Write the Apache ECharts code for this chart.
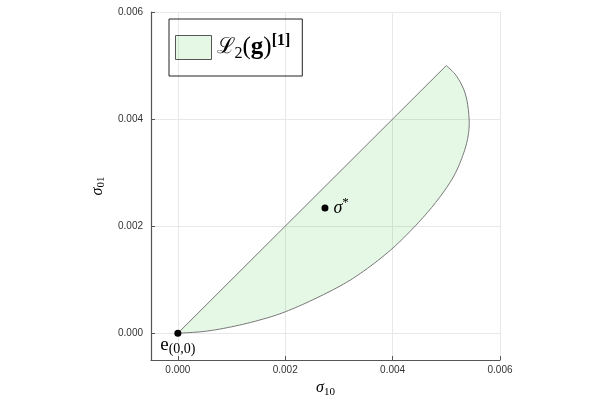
<!DOCTYPE html>
<html>
<head>
<meta charset="utf-8">
<script src="https://cdn.jsdelivr.net/npm/echarts@6/dist/echarts.min.js"></script>
<style>
html, body { margin: 0; padding: 0; background: #fff; }
#main { width: 600px; height: 400px; }
</style>
</head>
<body>
<div id="main"></div>
<script>
// lower / right boundary of the region, from (0,0) round to (0.005,0.005)
var curveX = [0, 0.0005, 0.0010, 0.0015, 0.0020, 0.00265, 0.00327, 0.0039, 0.00439, 0.0048, 0.00512, 0.0053, 0.0054, 0.005425, 0.00536, 0.0052, 0.0050];
var curveY = [0, 0.000035, 0.00012, 0.00024, 0.00040, 0.00069, 0.00103, 0.00150, 0.00197, 0.00244, 0.0029, 0.0033, 0.00365, 0.0040, 0.00445, 0.00479, 0.0050];
// straight upper edge
var edgeX = [0, 0.005];
var edgeY = [0, 0.005];
var starPoint = [0.00274, 0.00234];
var originPoint = [0, 0];
var tickValues = [0, 0.002, 0.004, 0.006];
var legendName = 'L2g';

var serif = '"Liberation Serif", "DejaVu Serif", serif';
var sans = '"Liberation Sans", Helvetica, Arial, sans-serif';
var fillColor = 'rgba(0,180,0,0.1)';

var regionPts = [];
for (var i = 0; i < curveX.length; i++) {
  regionPts.push([curveX[i], curveY[i]]);
}

// smooth the pixel path through the read points (catmull-rom)
function smoothPath(p) {
  var out = [p[0]];
  for (var i = 0; i < p.length - 1; i++) {
    var p0 = p[Math.max(i - 1, 0)], p1 = p[i], p2 = p[i + 1], p3 = p[Math.min(i + 2, p.length - 1)];
    for (var k = 1; k <= 10; k++) {
      var t = k / 10, t2 = t * t, t3 = t2 * t;
      out.push([
        0.5 * (2 * p1[0] + (-p0[0] + p2[0]) * t + (2 * p0[0] - 5 * p1[0] + 4 * p2[0] - p3[0]) * t2 + (-p0[0] + 3 * p1[0] - 3 * p2[0] + p3[0]) * t3),
        0.5 * (2 * p1[1] + (-p0[1] + p2[1]) * t + (2 * p0[1] - 5 * p1[1] + 4 * p2[1] - p3[1]) * t2 + (-p0[1] + 3 * p1[1] - 3 * p2[1] + p3[1]) * t3)
      ]);
    }
  }
  return out;
}

var myChart = echarts.init(document.getElementById('main'));

var option = {
  animation: false,
  backgroundColor: '#fff',
  grid: {
    left: 151,
    right: 100,
    top: 12,
    bottom: 40,
    outerBoundsMode: 'none'
  },
  legend: {
    left: 169,
    top: 19,
    orient: 'vertical',
    padding: [14, 12, 14, 6],
    borderColor: '#222',
    borderWidth: 1,
    itemWidth: 36,
    itemHeight: 24,
    data: [{
      name: legendName,
      icon: 'rect',
      itemStyle: {
        color: fillColor,
        borderColor: '#555',
        borderWidth: 1
      }
    }],
    formatter: function () {
      return '{L|\u2112}{s|2}{m|(}{b|g}{m|)}{p|[1]}';
    },
    textStyle: {
      rich: {
        L: { fontFamily: '"DejaVu Serif", serif', fontSize: 22, color: '#000', lineHeight: 29 },
        m: { fontFamily: serif, fontSize: 25, color: '#000', lineHeight: 29 },
        b: { fontFamily: serif, fontWeight: 'bold', fontSize: 25, color: '#000', lineHeight: 29 },
        s: { fontFamily: serif, fontSize: 16, color: '#000', lineHeight: 15, verticalAlign: 'bottom' },
        p: { fontFamily: serif, fontWeight: 'bold', fontSize: 16, color: '#000', lineHeight: 16, verticalAlign: 'top' }
      }
    }
  },
  xAxis: {
    type: 'value',
    min: -0.0005,
    max: 0.006,
    name: '{i|\u03c3}{s|10}',
    nameLocation: 'middle',
    nameGap: 12,
    nameTextStyle: {
      rich: {
        i: { fontFamily: serif, fontStyle: 'italic', fontSize: 16, color: '#000' },
        s: { fontFamily: serif, fontSize: 11, color: '#000', padding: [8, 0, 0, 0] }
      }
    },
    axisLine: { onZero: false, lineStyle: { color: '#555', width: 1.2 } },
    axisTick: { inside: true, length: 4, customValues: tickValues, lineStyle: { color: '#555' } },
    axisLabel: {
      customValues: tickValues,
      margin: 5,
      fontFamily: sans,
      fontSize: 10,
      color: '#333',
      formatter: function (v) { return v.toFixed(3); }
    },
    splitLine: { show: true, lineStyle: { color: '#e8e8e8', width: 1 } }
  },
  yAxis: {
    type: 'value',
    min: -0.0005,
    max: 0.006,
    name: '{i|\u03c3}{s|01}',
    nameLocation: 'middle',
    nameGap: 42,
    nameTextStyle: {
      rich: {
        i: { fontFamily: serif, fontStyle: 'italic', fontSize: 16, color: '#000' },
        s: { fontFamily: serif, fontSize: 11, color: '#000', padding: [8, 0, 0, 0] }
      }
    },
    axisLine: { onZero: false, lineStyle: { color: '#555', width: 1.2 } },
    axisTick: { inside: true, length: 4, customValues: tickValues, lineStyle: { color: '#555' } },
    axisLabel: {
      customValues: tickValues,
      margin: 8,
      fontFamily: sans,
      fontSize: 10,
      color: '#333',
      formatter: function (v) { return v.toFixed(3); }
    },
    splitLine: { show: true, lineStyle: { color: '#e8e8e8', width: 1 } }
  },
  series: [
    {
      name: legendName,
      type: 'custom',
      coordinateSystem: 'cartesian2d',
      data: regionPts,
      itemStyle: { color: fillColor },
      renderItem: function (params, api) {
        if (params.dataIndex !== 0) return null;
        var raw = [];
        for (var i = 0; i < curveX.length; i++) {
          raw.push(api.coord([curveX[i], curveY[i]]));
        }
        var pts = smoothPath(raw);
        var e0 = api.coord([edgeX[0], edgeY[0]]);
        var e1 = api.coord([edgeX[1], edgeY[1]]);
        return {
          type: 'group',
          children: [
            {
              type: 'polygon',
              shape: { points: pts },
              style: { fill: fillColor, stroke: null }
            },
            {
              type: 'polyline',
              shape: { points: pts },
              style: { fill: null, stroke: '#777', lineWidth: 1 }
            },
            {
              type: 'line',
              shape: { x1: e0[0], y1: e0[1], x2: e1[0], y2: e1[1] },
              style: { stroke: '#777', lineWidth: 1 }
            }
          ]
        };
      }
    },
    {
      type: 'scatter',
      symbolSize: 7,
      itemStyle: { color: '#000', opacity: 1 },
      data: [originPoint],
      label: {
        show: true,
        position: 'bottom',
        distance: -4,
        formatter: '{e|e}{s|(0,0)}',
        rich: {
          e: { fontFamily: serif, fontSize: 19, color: '#000' },
          s: { fontFamily: serif, fontSize: 14, color: '#000', padding: [10, 0, 0, 0] }
        }
      }
    },
    {
      type: 'scatter',
      symbolSize: 7,
      itemStyle: { color: '#000', opacity: 1 },
      data: [starPoint],
      label: {
        show: true,
        position: 'right',
        distance: 5,
        formatter: '{i|\u03c3}{p|*}',
        rich: {
          i: { fontFamily: serif, fontStyle: 'italic', fontSize: 18, color: '#000' },
          p: { fontFamily: serif, fontSize: 13, color: '#000', padding: [0, 0, 10, 0] }
        }
      }
    }
  ]
};

myChart.setOption(option);
</script>
</body>
</html>
